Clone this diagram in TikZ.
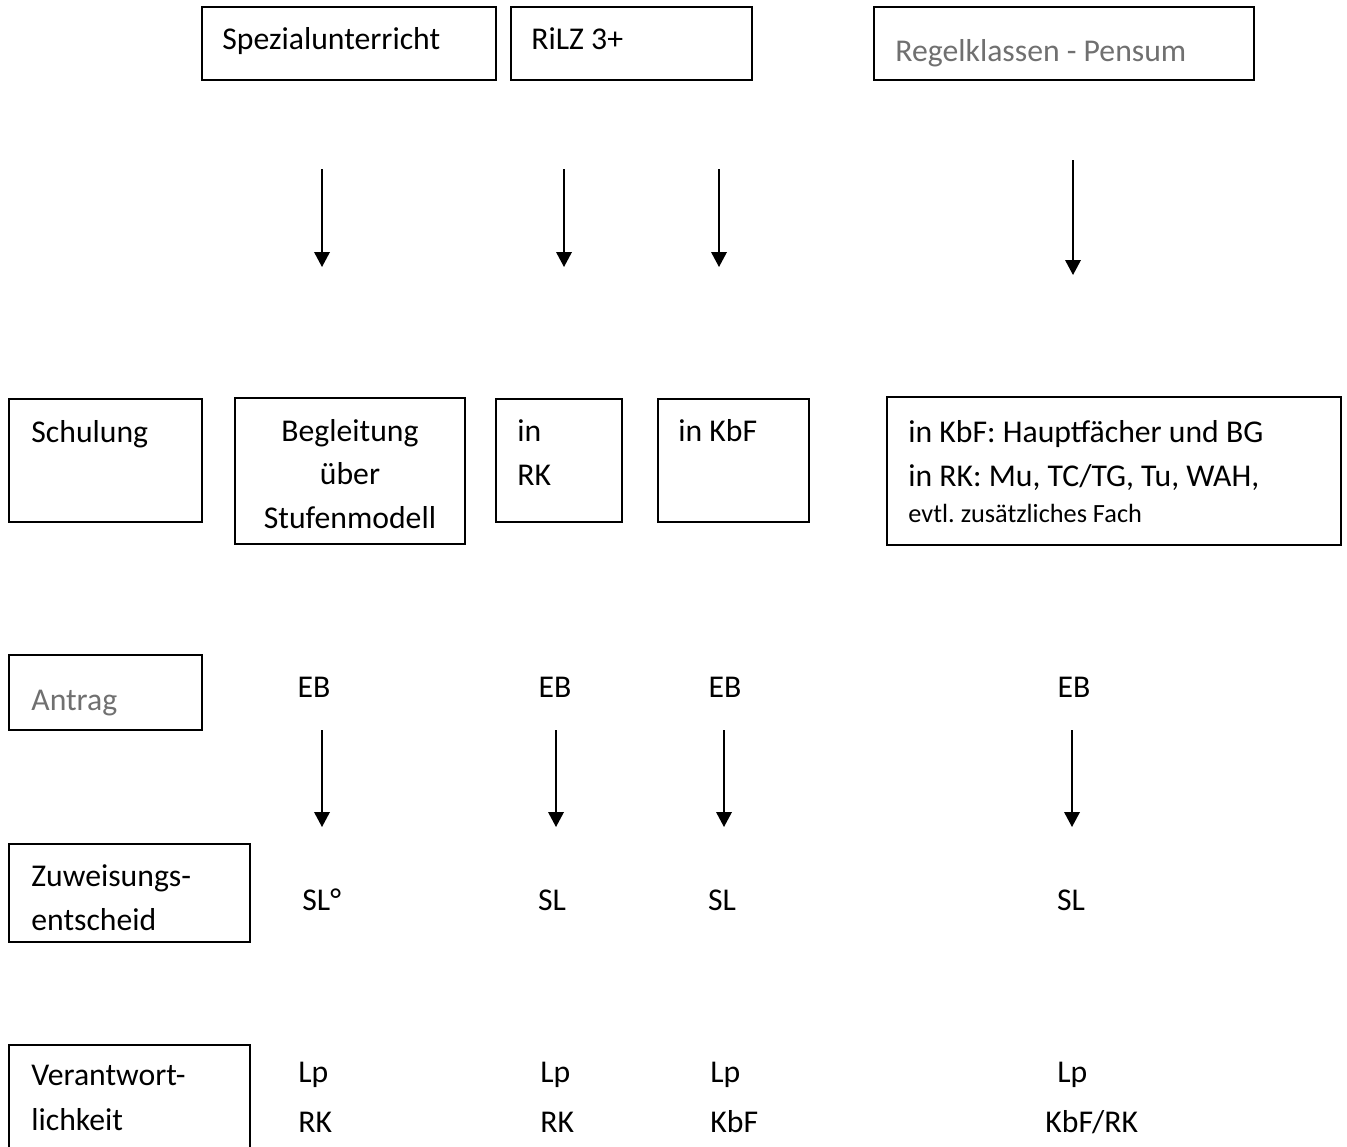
\documentclass[tikz,border=0pt]{standalone}
\usepackage{fontspec}
\setmainfont{Carlito}
\usetikzlibrary{arrows.meta,fit}
\definecolor{txtgray}{RGB}{112,112,112}
\frenchspacing
\begin{document}
\begin{tikzpicture}[x=0.5pt,y=-0.5pt,
  box/.style={draw=black, line width=0.8pt, inner sep=0pt, fill=none},
  lbl/.style={anchor=base west, inner sep=0pt, font=\fontsize{15.85}{19}\selectfont},
  clbl/.style={anchor=base, inner sep=0pt, font=\fontsize{15.85}{19}\selectfont},
  small/.style={anchor=base west, inner sep=0pt, font=\fontsize{13.15}{16}\selectfont},
  grey/.style={text=txtgray},
  arr/.style={-{Triangle[length=7.5pt,width=7.8pt]}, line width=0.8pt}]
\useasboundingbox (0,0) rectangle (1347,1146);
\fill[white] (0,0) rectangle (1347,1146);
\clip (0,0) rectangle (1347,1146);

% ---- top row boxes
\node[box, fit={(202,7) (496,80)}] (bSpez) {};
\node[lbl] (tSpez) at (222,49) {Spezialunterricht};
\node[box, fit={(511,7) (752,80)}] (bRilz) {};
\node[lbl] (tRilz) at (531,49) {RiLZ 3+};
\node[box, fit={(874,7) (1254,80)}] (bRegel) {};
\node[lbl, grey] (tRegel) at (895,61) {Regelklassen - Pensum};

% ---- top arrows
\coordinate (a1s) at (322,169); \coordinate (a1e) at (322,267);
\coordinate (a2s) at (564,169); \coordinate (a2e) at (564,267);
\coordinate (a3s) at (719,169); \coordinate (a3e) at (719,267);
\coordinate (a4s) at (1073,160); \coordinate (a4e) at (1073,275);
\draw[arr] (a1s) -- (a1e);
\draw[arr] (a2s) -- (a2e);
\draw[arr] (a3s) -- (a3e);
\draw[arr] (a4s) -- (a4e);

% ---- second row
\node[box, fit={(9,399) (202,522)}] (bSchul) {};
\node[lbl] (tSchul) at (31,442) {Schulung};
\node[box, fit={(235,398) (465,544)}] (bBegl) {};
\node[clbl] (tBegl1) at (350,441) {Begleitung};
\node[clbl] (tBegl2) at (350,484) {über};
\node[clbl] (tBegl3) at (350,528) {Stufenmodell};
\node[box, fit={(496,399) (622,522)}] (bInRK) {};
\node[lbl] (tIn) at (517,441) {in};
\node[lbl] (tRK) at (517,485) {RK};
\node[box, fit={(658,399) (809,522)}] (bInKbF) {};
\node[lbl] (tInKbF) at (678,441) {in KbF};
\node[box, fit={(887,397) (1341,545)}] (bHaupt) {};
\node[lbl] (tH1) at (908,442) {in KbF: Hauptfächer und BG};
\node[lbl] (tH2) at (908,486) {in RK: Mu, TC/TG, Tu, WAH,};
\node[small] (tH3) at (908,522) {evtl. zusätzliches Fach};

% ---- Antrag row
\node[box, fit={(9,655) (202,730)}] (bAntrag) {};
\node[lbl, grey] (tAntrag) at (31,710) {Antrag};
\node[clbl] (eb1) at (314,697) {EB};
\node[clbl] (eb2) at (555,697) {EB};
\node[clbl] (eb3) at (725,697) {EB};
\node[clbl] (eb4) at (1074,697) {EB};

\coordinate (b1s) at (322,730); \coordinate (b1e) at (322,827);
\coordinate (b2s) at (556,730); \coordinate (b2e) at (556,827);
\coordinate (b3s) at (724,730); \coordinate (b3e) at (724,827);
\coordinate (b4s) at (1072,730); \coordinate (b4e) at (1072,827);
\draw[arr] (b1s) -- (b1e);
\draw[arr] (b2s) -- (b2e);
\draw[arr] (b3s) -- (b3e);
\draw[arr] (b4s) -- (b4e);

% ---- Zuweisungsentscheid row
\node[box, fit={(9,844) (250,942)}] (bZuw) {};
\node[lbl] (tZuw1) at (31,886) {Zuweisungs-};
\node[lbl] (tZuw2) at (31,930) {entscheid};
\node[lbl] (sl1) at (302,910) {SL°};
\node[clbl] (sl2) at (552,910) {SL};
\node[clbl] (sl3) at (722,910) {SL};
\node[clbl] (sl4) at (1071,910) {SL};

% ---- Verantwortlichkeit row
\node[box, fit={(9,1045) (250,1200)}] (bVer) {};
\node[lbl] (tVer1) at (31,1085) {Verantwort-};
\node[lbl] (tVer2) at (31,1130) {lichkeit};
\node[lbl] (lp1) at (298,1082) {Lp};
\node[lbl] (lp2) at (540,1082) {Lp};
\node[lbl] (lp3) at (710,1082) {Lp};
\node[lbl] (lp4) at (1057,1082) {Lp};
\node[lbl] (r1) at (298,1132) {RK};
\node[lbl] (r2) at (540,1132) {RK};
\node[lbl] (r3) at (710,1132) {KbF};
\node[lbl] (r4) at (1045,1132) {KbF/RK};
\end{tikzpicture}
\end{document}
